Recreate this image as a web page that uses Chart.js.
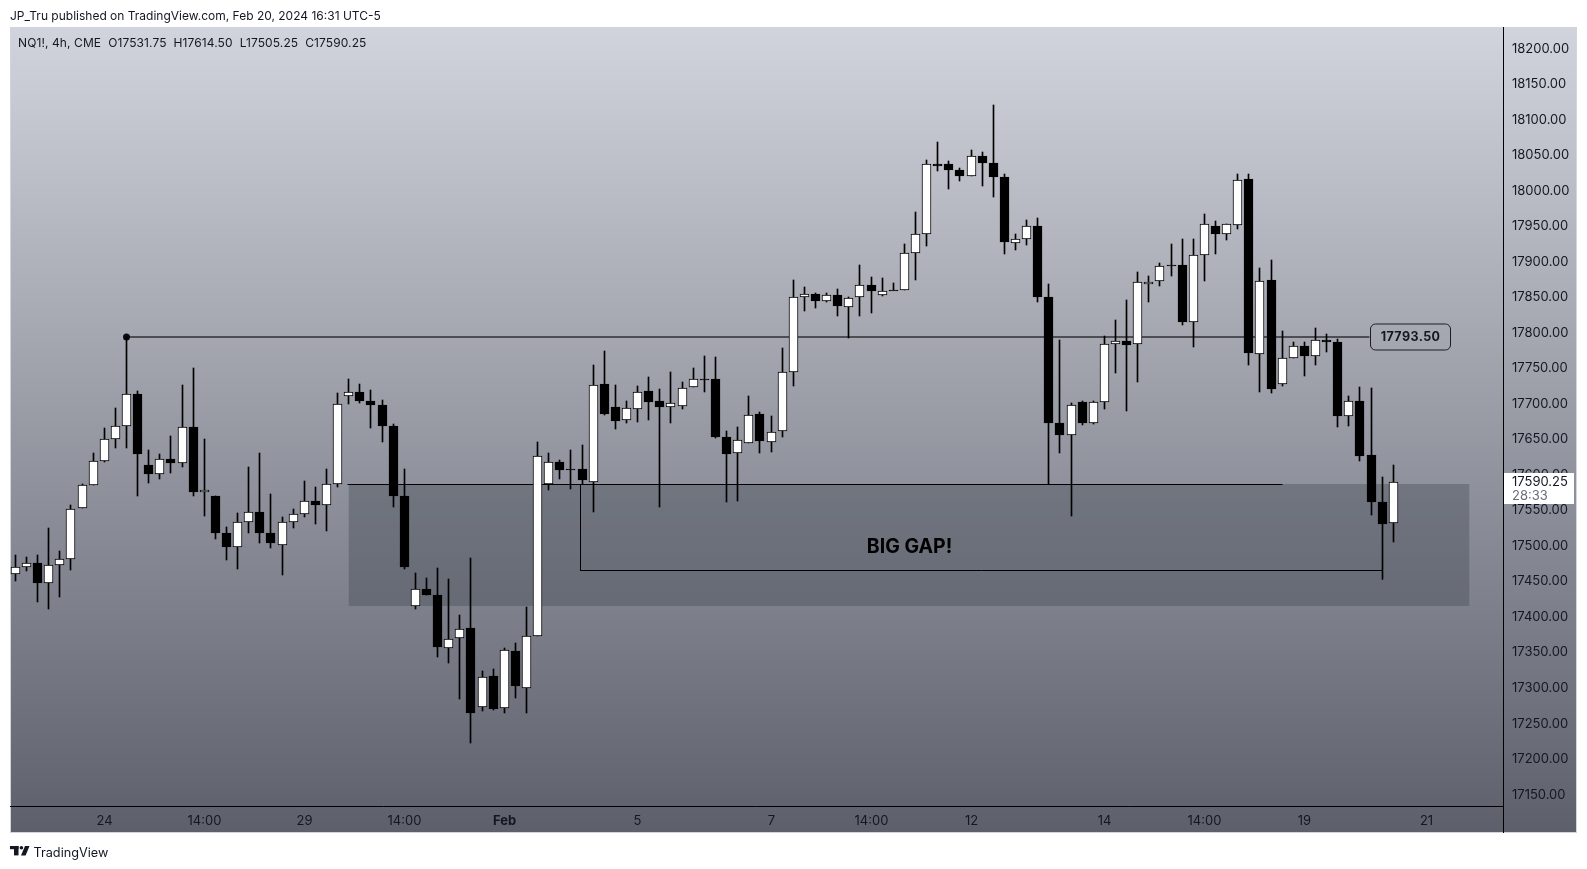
<!DOCTYPE html>
<html>
<head>
<meta charset="utf-8">
<title>NQ1! 4h</title>
<script src="https://cdn.jsdelivr.net/npm/chart.js@4/dist/chart.umd.min.js"></script>
<style>
  html, body { margin: 0; padding: 0; background: #fff; }
  canvas { display: block; }
</style>
</head>
<body>
<canvas id="nqChart" width="1587" height="869"></canvas>
<script>
// candles, oldest first (4h bars)
const opens = [17460.4,17470.3,17475.9,17447.7,17473.1,17481.5,17553.3,17585.7,17619.5,17650.4,17668.7,17713.8,17613.8,17601.2,17622.3,17616.7,17667.3,17575.8,17570.2,17518.1,17498.4,17533.6,17547.7,17518.1,17501.2,17533.6,17544.9,17563.2,17557.5,17587.1,17711,17717,17703.9,17698.2,17668.7,17570.2,17414.9,17439.2,17430.8,17356.2,17370.3,17384.3,17273.1,17316.8,17271.8,17352,17299.9,17373.1,17587,17618,17608.2,17608.2,17589.4,17727.8,17695.9,17676.7,17692.6,17718,17703.9,17695.4,17696.4,17723.6,17734.8,17734.8,17653.2,17630.7,17644.8,17685.6,17646.2,17661.7,17744.7,17850.3,17854.5,17844.6,17853.1,17836.2,17850.3,17867.2,17853.1,17860.8,17860.1,17912.2,17938.9,18036.8,18037.5,18029,18020.6,18048.7,18038.9,18019.2,17925.8,17931.9,17950.2,17850.8,17673.4,17655.6,17702.5,17672.5,17702.5,17784.1,17788.4,17784.1,17868.1,17872.8,17896,17895.3,17814.6,17909.4,17950.2,17939,17951.6,18016.4,17770.1,17874.2,17727.4,17764.4,17781.3,17767.2,17789.8,17787,17682.3,17703.9,17627.9,17561.7,17531.75];
const highs = [17487.6,17484.8,17487.6,17525.6,17493.3,17558,17587.6,17631.2,17665.5,17694.5,17793.5,17718.5,17635.4,17629.8,17655.1,17726.9,17750.8,17650.9,17570.2,17527,17546.7,17611.5,17631.2,17573.5,17541.1,17552.4,17591.8,17583.3,17608.7,17715.7,17735.4,17728.3,17719.4,17705.8,17671.5,17608.6,17461.8,17455.2,17468.8,17453.8,17403.1,17483.4,17324.3,17327.1,17356.7,17363.7,17414.4,17646.6,17631.1,17621.3,17635.4,17642.4,17755,17774.7,17726.9,17704.3,17725.5,17738.1,17721.2,17745.2,17731.1,17750.8,17767.7,17766.3,17662.1,17667.8,17711.4,17688.9,17683.2,17779,17874.7,17864.8,17856.4,17855.9,17862,17850.7,17895.8,17878.9,17877.5,17870.4,17925.3,17970.4,18043.6,18068.9,18041.7,18032.3,18057.7,18054.8,18121,18023.9,17939.4,17959.1,17962,17869.1,17790.2,17701.1,17704.4,17704.4,17795.9,17818.4,17846.5,17886,17880.3,17898.6,17925.4,17932.4,17932.4,17967.6,17957.7,17953.1,18023.4,18023.9,17891.6,17902.8,17802.9,17787,17787.4,17807.1,17798.7,17791.6,17711.4,17724.1,17722.7,17597.4,17614.5];
const lows = [17450.1,17465.1,17420.5,17410.7,17427.6,17465.6,17553.3,17585.7,17617.6,17637.3,17637.3,17569.7,17589,17593.7,17603,17610.6,17569.7,17541.6,17509.2,17479.7,17467,17517.7,17503.6,17496.5,17458.5,17524.7,17540.2,17530.3,17520.5,17582.4,17699.2,17700.6,17665.4,17645.7,17554.2,17466.9,17410.6,17430.3,17343.1,17334.6,17283.9,17222,17267,17268.5,17264.2,17285.4,17264.2,17373.1,17578.1,17593.6,17579.5,17587,17548.1,17683.7,17664,17672.4,17673.8,17676.7,17554.2,17673.4,17692.1,17723.6,17716.1,17651.3,17561.2,17562.6,17644.8,17630.2,17631.6,17652.7,17724.5,17830.1,17834.3,17842.8,17823.1,17792.1,17823.1,17827.3,17851.2,17860.1,17860.1,17873.7,17921.6,18027.2,18001.8,18014,18020.6,18006,17990.6,17910.3,17916,17923,17842.8,17587.1,17631.2,17541.6,17669.7,17671.1,17692.2,17742.8,17689.4,17730.2,17842.8,17865.3,17880.3,17810.4,17779.4,17872.3,17910.4,17930.1,17946.5,17754.1,17716.1,17714.7,17725.5,17764.4,17738.6,17754.1,17772.4,17666.8,17668.2,17619,17543,17452.9,17505.25];
const closes = [17470.3,17475.4,17447.3,17472.6,17481.1,17551.9,17585.7,17619.5,17650.4,17668.7,17713.8,17628.9,17600.7,17622.3,17616.2,17667.3,17575.4,17578.6,17517.7,17497.9,17533.6,17547.7,17517.7,17503.6,17533.6,17544.9,17562.7,17557.1,17587.1,17699.7,17716.6,17703.4,17697.8,17668.2,17569.7,17469.7,17439.2,17430.3,17357.1,17368.9,17382.9,17264.2,17315.4,17269.9,17353.4,17302.2,17373.1,17626.5,17618,17606.3,17606.3,17592.2,17726.4,17685.1,17675.3,17694,17716.5,17702,17695,17700.6,17722.2,17734.8,17733.3,17652.7,17628.8,17649,17684.2,17647.1,17660.2,17744.7,17850.3,17854.5,17844.2,17853.1,17837.1,17848.9,17867.2,17858.2,17858.7,17859.3,17912.2,17938.9,18037.5,18035.3,18028.6,18020.1,18048.7,18038.4,18018.7,17927.2,17931.9,17950.2,17849.8,17672.5,17655.6,17698.3,17672.5,17702.5,17784.1,17788.4,17782.3,17871.4,17871.4,17893.9,17894.6,17814.6,17909.4,17953.1,17938.5,17953.1,18015,17771,17872.8,17720.3,17764.4,17781.3,17766.8,17789.8,17786.5,17682.3,17703.9,17626,17561.3,17530.3,17590.25];

// drawings on the chart, in bar number / price
const resistancePrice = 17793.5;
const resistanceBars = [11, 122.9];
const gapBars = [31, 131.9];
const gapTop = 17587;
const gapBottom = 17414.8;
const gapLineBars = [30.9, 115];
const measureBars = [51.9, 51.9, 124, 124];
const measurePrices = [17587, 17466, 17466, 17452.9];

const timeTickBars = [9, 18, 27, 36, 45, 57, 69, 78, 87, 99, 108, 117, 128];
const timeTickLabels = ['24', '14:00', '29', '14:00', 'Feb', '5', '7', '14:00', '12', '14', '14:00', '19', '21'];

const barNumbers = opens.map((_, i) => i + 1);
const bodyColors = opens.map((o, i) => closes[i] >= o ? '#ffffff' : '#000000');

// TradingView draws on whole pixels, keep everything crisp the same way
function snapToPixel(scale, half) {
    const orig = scale.getPixelForValue;
    scale.getPixelForValue = function (v, i) {
        const px = orig.call(scale, v, i);
        return half ? Math.floor(px) + 0.5 : Math.round(px);
    };
}

const FONT = 'Inter, "Noto Sans", sans-serif';
const INK = '#131722';
const PANEL = { left: 10, top: 27, right: 1577, bottom: 833 };

const backdrop = {
    id: 'backdrop',
    beforeDraw(chart) {
        const ctx = chart.ctx;
        const grad = ctx.createLinearGradient(0, PANEL.top, 0, PANEL.bottom);
        grad.addColorStop(0, '#d1d4dc');
        grad.addColorStop(1, '#5d606b');
        ctx.save();
        ctx.fillStyle = '#ffffff';
        ctx.fillRect(0, 0, chart.width, chart.height);
        ctx.fillStyle = grad;
        ctx.fillRect(PANEL.left, PANEL.top, PANEL.right - PANEL.left, PANEL.bottom - PANEL.top);
        ctx.strokeStyle = '#d1d4dc';
        ctx.strokeRect(PANEL.left + 0.5, PANEL.top + 0.5, PANEL.right - PANEL.left - 1, PANEL.bottom - PANEL.top - 1);
        ctx.fillStyle = INK;
        ctx.textBaseline = 'middle';
        ctx.font = '12px ' + FONT;
        ctx.fillText('JP_Tru published on TradingView.com, Feb 20, 2024 16:31 UTC-5', 10, 16);
        ctx.letterSpacing = '0.1px';
        ctx.fillText('NQ1!, 4h, CME  O17531.75  H17614.50  L17505.25  C17590.25', 18, 43);
        ctx.restore();
    }
};

const overlays = {
    id: 'overlays',
    afterDraw(chart) {
        const ctx = chart.ctx;
        const x = chart.scales.x, y = chart.scales.y;
        const area = chart.chartArea;
        ctx.save();

        // axis frame
        ctx.strokeStyle = '#000000';
        ctx.lineWidth = 1;
        ctx.beginPath();
        ctx.moveTo(area.right + 0.5, PANEL.top);
        ctx.lineTo(area.right + 0.5, PANEL.bottom);
        ctx.moveTo(PANEL.left, area.bottom + 0.5);
        ctx.lineTo(area.right, area.bottom + 0.5);
        ctx.stroke();

        // BIG GAP! note
        ctx.fillStyle = '#000000';
        ctx.font = 'bold 19.5px ' + FONT;
        ctx.textAlign = 'center';
        ctx.textBaseline = 'middle';
        ctx.fillText('BIG GAP!', x.getPixelForValue(81.5), y.getPixelForValue(17499));

        // price tag on the resistance line
        const tagY = y.getPixelForValue(resistancePrice);
        ctx.beginPath();
        ctx.roundRect(1370.5, tagY - 13, 80, 26, 5);
        ctx.strokeStyle = '#1c1d22';
        ctx.stroke();
        ctx.fillStyle = '#131722';
        ctx.font = 'bold 12.5px ' + FONT;
        ctx.letterSpacing = '0.4px';
        ctx.fillText('17793.50', 1410.5, tagY + 0.5);
        ctx.letterSpacing = '0px';

        // last price box
        ctx.fillStyle = '#ffffff';
        ctx.fillRect(area.right + 1, 473, 70, 31);
        ctx.textAlign = 'left';
        ctx.font = '13px ' + FONT;
        ctx.fillStyle = INK;
        ctx.fillText('17590.25', 1512, 482);
        ctx.fillStyle = '#6a6d78';
        ctx.fillText('28:33', 1512, 496);

        // TradingView mark
        ctx.fillStyle = '#131722';
        ctx.fillRect(10, 846, 8.5, 3.2);
        ctx.fillRect(14, 846, 4.5, 9.4);
        ctx.beginPath();
        ctx.arc(21.4, 847.8, 1.8, 0, Math.PI * 2);
        ctx.fill();
        ctx.beginPath();
        ctx.moveTo(25, 846);
        ctx.lineTo(29.5, 846);
        ctx.lineTo(25.6, 855.4);
        ctx.lineTo(21, 855.4);
        ctx.closePath();
        ctx.fill();
        ctx.font = '12.7px ' + FONT;
        ctx.fillText('TradingView', 33.5, 853);
        ctx.restore();
    }
};

new Chart(document.getElementById('nqChart'), {
    type: 'bar',
    data: {
        datasets: [
            // candle bodies, then wicks behind them, then the drawings
            {
                data: barNumbers.map((b, i) => ({ x: b, y: [opens[i], closes[i]] })),
                backgroundColor: bodyColors,
                borderColor: '#000000',
                borderWidth: 1,
                borderSkipped: false,
                barThickness: 9,
                grouped: false,
                order: 1
            },
            {
                data: barNumbers.map((b, i) => ({ x: b, y: [lows[i], highs[i]] })),
                backgroundColor: '#000000',
                borderWidth: 0,
                barThickness: 1,
                grouped: false,
                order: 2
            },
            {
                type: 'line',
                data: measureBars.map((b, i) => ({ x: b, y: measurePrices[i] })),
                yAxisID: 'yLines',
                borderColor: '#000000',
                borderWidth: 1,
                pointRadius: 0,
                order: 3
            },
            {
                type: 'line',
                data: gapLineBars.map(b => ({ x: b, y: gapTop })),
                yAxisID: 'yLines',
                borderColor: '#000000',
                borderWidth: 1,
                pointRadius: 0,
                order: 4
            },
            {
                type: 'line',
                data: resistanceBars.map(b => ({ x: b, y: resistancePrice })),
                borderColor: '#4d4d53',
                borderWidth: 2,
                pointRadius: [3.5, 0],
                pointBackgroundColor: '#0a0a0a',
                pointBorderWidth: 0,
                order: 5
            },
            {
                type: 'line',
                data: gapBars.map(b => ({ x: b, y: gapBottom })),
                borderWidth: 0,
                pointRadius: 0,
                fill: { value: gapTop },
                backgroundColor: 'rgba(67, 70, 81, 0.38)',
                order: 6
            }
        ]
    },
    options: {
        responsive: false,
        animation: false,
        events: [],
        layout: { padding: { left: PANEL.left, top: PANEL.top, right: 1587 - PANEL.right, bottom: 869 - PANEL.bottom } },
        plugins: { legend: { display: false }, tooltip: { enabled: false }, title: { display: false } },
        scales: {
            x: {
                type: 'linear',
                offset: false,
                min: 0.52,
                max: 134.87,
                grid: { display: false, drawTicks: false },
                border: { display: false },
                afterBuildTicks(s) { s.ticks = timeTickBars.map(v => ({ value: v })); },
                afterFit(s) { s.height = 27; },
                afterUpdate(s) { snapToPixel(s, true); },
                ticks: {
                    autoSkip: false,
                    maxRotation: 0,
                    padding: 7,
                    color: INK,
                    callback: (v, i) => timeTickLabels[i],
                    font: c => ({ family: FONT, size: 13, weight: timeTickLabels[c.index] === 'Feb' ? 'bold' : 'normal' })
                }
            },
            y: {
                position: 'right',
                min: 17133.9,
                max: 18230.3,
                grid: { display: false, drawTicks: false },
                border: { display: false },
                afterFit(s) { s.width = 74; },
                afterUpdate(s) { snapToPixel(s, false); },
                ticks: {
                    stepSize: 50,
                    includeBounds: false,
                    autoSkip: false,
                    padding: 9,
                    color: INK,
                    font: { family: FONT, size: 13 },
                    callback: v => v.toFixed(2)
                }
            },
            yLines: {
                display: false,
                min: 17133.9,
                max: 18230.3,
                afterUpdate(s) { snapToPixel(s, true); }
            }
        }
    },
    plugins: [backdrop, overlays]
});
</script>
</body>
</html>
